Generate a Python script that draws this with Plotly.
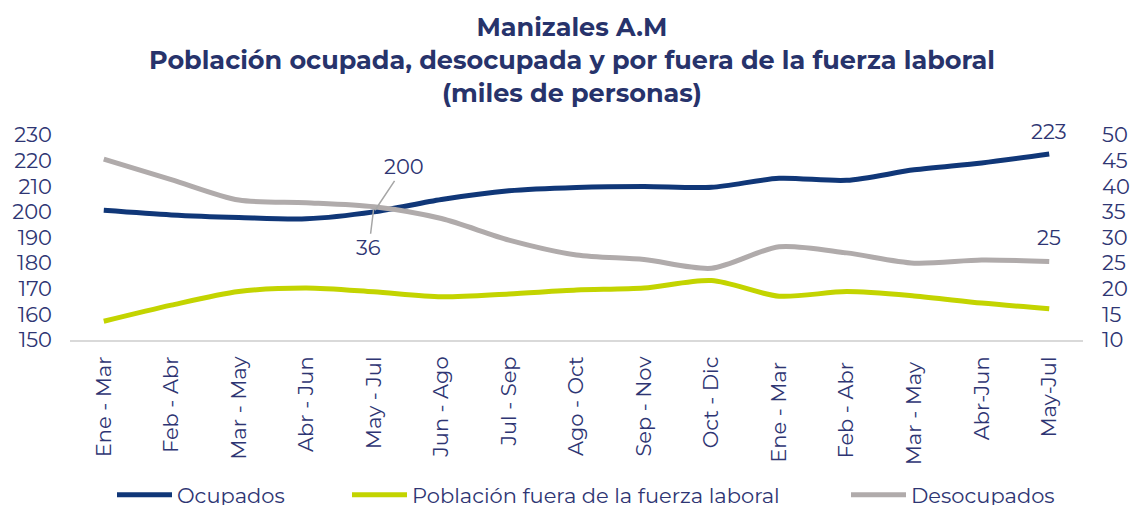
import plotly.graph_objects as go

periods = ["Ene - Mar", "Feb - Abr", "Mar - May", "Abr - Jun", "May - Jul", "Jun - Ago",
           "Jul - Sep", "Ago - Oct", "Sep - Nov", "Oct - Dic", "Ene - Mar ", "Feb - Abr ",
           "Mar - May ", "Abr-Jun", "May-Jul"]
ocupados = [200.6, 198.8, 197.8, 197.3, 200.0, 204.8, 208.2, 209.5, 209.9, 209.6,
            213.1, 212.3, 216.4, 219.1, 222.6]
fuera = [157.3, 163.6, 168.9, 170.3, 168.8, 166.9, 168.0, 169.5, 170.3, 173.2,
         167.1, 168.9, 167.2, 164.4, 162.2]
desocupados = [45.3, 41.3, 37.3, 36.8, 36.0, 33.7, 29.5, 26.6, 25.7, 24.0,
               28.2, 27.0, 25.0, 25.6, 25.3]
left_ticks = [150, 160, 170, 180, 190, 200, 210, 220, 230]
right_ticks = [10, 15, 20, 25, 30, 35, 40, 45, 50]

NAVY = "#103778"
GREEN = "#C3D400"
GRAY = "#B0ABAB"
TXT = "#2E3573"
TITLE_C = "#27336B"
FONT = "Montserrat, 'Noto Sans', sans-serif"
TFONT = "Montserrat, Lato, sans-serif"

x = list(range(len(periods)))

fig = go.Figure()
fig.add_trace(go.Scatter(x=x, y=ocupados, name="Ocupados", mode="lines", legend="legend",
                         line=dict(color=NAVY, width=5, shape="spline", smoothing=0.8)))
fig.add_trace(go.Scatter(x=x, y=fuera, name="Población fuera de la fuerza laboral", mode="lines",
                         legend="legend2",
                         line=dict(color=GREEN, width=5, shape="spline", smoothing=0.8)))
fig.add_trace(go.Scatter(x=x, y=desocupados, name="Desocupados", mode="lines", yaxis="y2",
                         legend="legend3",
                         line=dict(color=GRAY, width=5, shape="spline", smoothing=0.8)))

ann = []
i_mj = 4
ann.append(dict(x=i_mj, y=ocupados[i_mj], xref="x", yref="y", text=f"{ocupados[i_mj]:.0f}",
                showarrow=True, arrowhead=0, arrowwidth=1.5, arrowcolor="#A6A6A6",
                ax=30, ay=-45, standoff=2, font=dict(size=21, color=TXT, family=FONT)))
ann.append(dict(x=i_mj, y=desocupados[i_mj], xref="x", yref="y2", text=f"{desocupados[i_mj]:.0f}",
                showarrow=True, arrowhead=0, arrowwidth=1.5, arrowcolor="#A6A6A6",
                ax=-5, ay=41, standoff=2, font=dict(size=21, color=TXT, family=FONT)))
last = len(periods) - 1
ann.append(dict(x=last, y=ocupados[last], xref="x", yref="y", text=f"{ocupados[last]:.0f}",
                showarrow=False, yshift=22, font=dict(size=21, color=TXT, family=FONT)))
ann.append(dict(x=last, y=desocupados[last], xref="x", yref="y2", text=f"{desocupados[last]:.0f}",
                showarrow=False, yshift=24, font=dict(size=21, color=TXT, family=FONT)))
ann.append(dict(text="<b>Manizales A.M<br>Población ocupada, desocupada y por fuera de la fuerza laboral<br>(miles de personas)</b>",
                xref="paper", yref="paper", x=0.5, y=(340 - 9) / 205, xanchor="center", yanchor="top",
                xshift=-5, showarrow=False, align="center",
                font=dict(size=25.5, color=TITLE_C, family=TFONT)))

def leg(px):
    return dict(orientation="h", x=(px - 70) / 1013, xanchor="left", y=(340 - 495) / 205,
                yanchor="middle", font=dict(size=21, color=TXT, family=FONT), itemwidth=55,
                bgcolor="rgba(0,0,0,0)")

fig.update_layout(
    width=1131, height=505,
    margin=dict(l=70, r=48, t=135, b=165, autoexpand=False),
    paper_bgcolor="white", plot_bgcolor="white",
    font=dict(family=FONT, color=TXT, size=19),
    xaxis=dict(tickmode="array", tickvals=x, ticktext=periods, tickangle=-90,
               range=[-0.5, len(periods) - 0.5], showgrid=False, showline=True,
               linecolor="#D9D9D9", linewidth=2, ticks="", zeroline=False, automargin=False,
               ticklabelstandoff=6, tickfont=dict(size=21, color=TXT, family=FONT)),
    yaxis=dict(range=[150, 230], tickvals=left_ticks, showgrid=False, zeroline=False,
               ticks="", automargin=False, ticklabelstandoff=17,
               tickfont=dict(size=21, color=TXT, family=FONT)),
    yaxis2=dict(range=[10, 50], tickvals=right_ticks, overlaying="y", side="right",
                showgrid=False, zeroline=False, ticks="", automargin=False, ticklabelstandoff=18,
                tickfont=dict(size=21, color=TXT, family=FONT)),
    legend=leg(112),
    legend2=leg(347),
    legend3=leg(846),
    annotations=ann,
    showlegend=True,
)
fig.write_html("out.html", config={"displayModeBar": False},
               post_script="document.body.style.margin='0';document.body.style.overflow='hidden';")
